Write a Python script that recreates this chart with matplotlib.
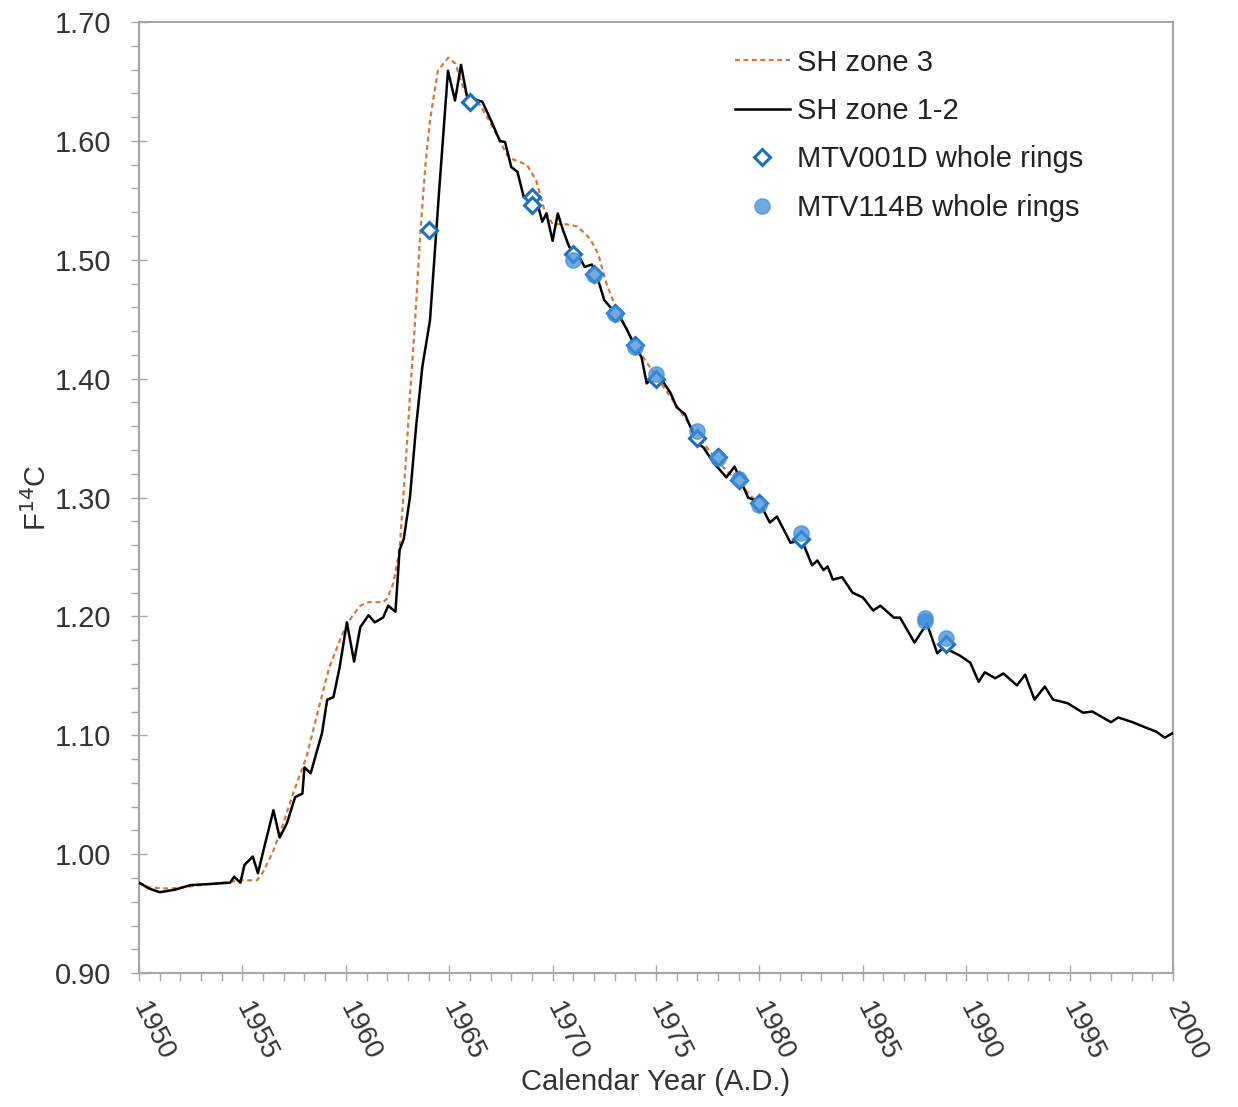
import numpy as np
import matplotlib.pyplot as plt
from matplotlib.ticker import MultipleLocator, FormatStrFormatter

plt.rcParams['font.family'] = ['Liberation Sans', 'DejaVu Sans']

# SH zone 1-2 (black)
yr_12 = [1950.0, 1950.5, 1951.0, 1951.7, 1952.5, 1953.5, 1954.4, 1954.6, 1954.9, 1955.1,
         1955.5, 1955.75, 1956.1, 1956.5, 1956.8, 1957.15, 1957.55, 1957.9, 1958.0, 1958.3,
         1958.85, 1959.1, 1959.4, 1959.7, 1960.05, 1960.4, 1960.7, 1961.1, 1961.4, 1961.8,
         1962.05, 1962.4, 1962.6, 1962.8, 1963.1, 1963.4, 1963.7, 1964.07, 1964.5, 1964.94,
         1965.28, 1965.57, 1965.85, 1966.2, 1966.6, 1967.0, 1967.45, 1967.7, 1968.0, 1968.3,
         1968.6, 1969.0, 1969.3, 1969.5, 1969.7, 1970.0, 1970.25, 1970.5, 1970.8, 1971.1,
         1971.3, 1971.55, 1971.9, 1972.2, 1972.5, 1972.9, 1973.25, 1973.6, 1973.9, 1974.3,
         1974.55, 1974.85, 1975.2, 1975.7, 1976.0, 1976.4, 1977.0, 1977.3, 1977.75, 1978.4,
         1978.8, 1979.45, 1980.0, 1980.5, 1980.85, 1981.5, 1982.05, 1982.55, 1982.8, 1983.1,
         1983.3, 1983.55, 1984.0, 1984.5, 1985.0, 1985.5, 1985.85, 1986.5, 1986.8, 1987.5,
         1988.1, 1988.6, 1988.9, 1989.7, 1990.2, 1990.6, 1990.9, 1991.4, 1991.8, 1992.45,
         1992.85, 1993.3, 1993.8, 1994.2, 1994.9, 1995.65, 1996.1, 1996.6, 1997.0, 1997.35,
         1998.05, 1998.75, 1999.2, 1999.6, 2000.0]
f_12 = [0.976, 0.971, 0.968, 0.970, 0.974, 0.975, 0.976, 0.981, 0.976, 0.991,
        0.998, 0.984, 1.009, 1.037, 1.014, 1.026, 1.048, 1.051, 1.073, 1.068,
        1.102, 1.130, 1.132, 1.157, 1.195, 1.162, 1.191, 1.201, 1.195, 1.199,
        1.209, 1.204, 1.256, 1.265, 1.300, 1.360, 1.410, 1.449, 1.555, 1.659,
        1.634, 1.664, 1.638, 1.635, 1.633, 1.618, 1.600, 1.599, 1.578, 1.574,
        1.553, 1.553, 1.545, 1.532, 1.539, 1.516, 1.539, 1.525, 1.511, 1.505,
        1.502, 1.494, 1.496, 1.483, 1.466, 1.458, 1.452, 1.441, 1.430, 1.418,
        1.396, 1.401, 1.401, 1.388, 1.376, 1.370, 1.346, 1.342, 1.330, 1.317,
        1.326, 1.300, 1.296, 1.279, 1.284, 1.262, 1.264, 1.243, 1.247, 1.239,
        1.242, 1.231, 1.233, 1.220, 1.216, 1.205, 1.209, 1.199, 1.199, 1.178,
        1.194, 1.169, 1.174, 1.167, 1.161, 1.145, 1.153, 1.148, 1.152, 1.142,
        1.151, 1.130, 1.141, 1.130, 1.127, 1.119, 1.120, 1.115, 1.111, 1.115,
        1.111, 1.106, 1.103, 1.098, 1.102]

# SH zone 3 (orange dashed)
yr_3 = [1950.0, 1950.5, 1951.5, 1952.5, 1953.5, 1954.5, 1955.0, 1955.7, 1956.0, 1956.5,
        1957.0, 1957.45, 1958.1, 1958.75, 1959.2, 1959.85, 1960.3, 1960.7, 1961.1, 1961.8,
        1962.0, 1962.3, 1962.6, 1962.9, 1963.1, 1963.35, 1963.6, 1963.85, 1964.07, 1964.45,
        1964.95, 1965.3, 1965.67, 1966.0, 1966.5, 1967.0, 1967.5, 1967.8, 1968.0, 1968.75,
        1969.2, 1969.6, 1970.0, 1970.6, 1971.2, 1971.8, 1972.2, 1972.6, 1973.1, 1974.0,
        1975.0, 1976.0, 1977.0, 1978.0, 1979.0, 1980.0]
f_3 = [0.976, 0.972, 0.971, 0.973, 0.975, 0.977, 0.978, 0.978, 0.985, 1.003,
       1.027, 1.051, 1.082, 1.127, 1.157, 1.186, 1.200, 1.209, 1.212, 1.212,
       1.215, 1.228, 1.256, 1.330, 1.385, 1.449, 1.522, 1.580, 1.617, 1.659,
       1.670, 1.665, 1.645, 1.635, 1.630, 1.615, 1.598, 1.588, 1.585, 1.580,
       1.567, 1.542, 1.530, 1.530, 1.528, 1.518, 1.505, 1.480, 1.458, 1.428,
       1.402, 1.377, 1.352, 1.330, 1.312, 1.294]

# MTV001D whole rings (open diamonds)
yr_001d = [1964, 1966, 1969, 1969, 1971, 1972, 1973, 1974, 1975, 1977, 1978, 1979, 1980, 1982, 1989]
f_001d = [1.525, 1.633, 1.553, 1.546, 1.505, 1.488, 1.455, 1.428, 1.400, 1.350, 1.334, 1.315, 1.295, 1.265, 1.177]

# MTV114B whole rings (filled circles)
yr_114b = [1971, 1972, 1973, 1974, 1975, 1977, 1978, 1979, 1980, 1982, 1988, 1988, 1989]
f_114b = [1.500, 1.487, 1.454, 1.427, 1.404, 1.356, 1.333, 1.316, 1.294, 1.270, 1.199, 1.196, 1.182]

fig = plt.figure(figsize=(12.38, 11.07), dpi=100)
ax = fig.add_axes([0.1123, 0.1210, 0.8352, 0.8591])

ax.plot(yr_3, f_3, color='#d9773a', linestyle=(0, (2.2, 1.6)), linewidth=1.6, label='SH zone 3', zorder=2)
ax.plot(yr_12, f_12, color='black', linewidth=1.8, label='SH zone 1-2', zorder=3)
ax.plot(yr_001d, f_001d, linestyle='none', marker='D', markersize=8, markerfacecolor='white',
        markeredgecolor='#1b6fc2', markeredgewidth=2.2, label='MTV001D whole rings', zorder=4)
ax.plot(yr_114b, f_114b, linestyle='none', marker='o', markersize=11, markerfacecolor='#3f8fd8',
        markeredgecolor='#3f8fd8', alpha=0.75, label='MTV114B whole rings', zorder=5)

ax.set_xlim(1950, 2000)
ax.set_ylim(0.90, 1.70)
ax.xaxis.set_major_locator(MultipleLocator(5))
ax.xaxis.set_minor_locator(MultipleLocator(1))
ax.yaxis.set_major_locator(MultipleLocator(0.1))
ax.yaxis.set_minor_locator(MultipleLocator(0.02))
ax.yaxis.set_major_formatter(FormatStrFormatter('%.2f'))

for sp in ax.spines.values():
    sp.set_color('#a6a6a6')
    sp.set_linewidth(1.5)
ax.tick_params(which='major', direction='inout', length=12, width=1, color='#a6a6a6',
               labelsize=21, labelcolor='#333333')
ax.tick_params(which='minor', direction='out', length=6, width=1, color='#a6a6a6')
ax.tick_params(axis='y', which='major', pad=14)
ax.tick_params(axis='x', which='major', pad=16, labelsize=20)
for lab in ax.get_xticklabels():
    lab.set_rotation(-63)
    lab.set_ha('left')
    lab.set_va('center')
    lab.set_rotation_mode('anchor')

ax.set_xlabel('Calendar Year (A.D.)', fontsize=21, color='#333333')
ax.xaxis.set_label_coords(0.5, -0.1)
ax.set_ylabel('F$^{14}$C', fontsize=21, color='#333333', labelpad=2)

ax.legend(loc='upper left', bbox_to_anchor=(0.576, 0.972), borderaxespad=0, borderpad=0,
          frameon=False, fontsize=21, handlelength=1.9, handletextpad=0.25,
          labelspacing=0.7, labelcolor='#222222')

fig.savefig('out.png', dpi=100)
